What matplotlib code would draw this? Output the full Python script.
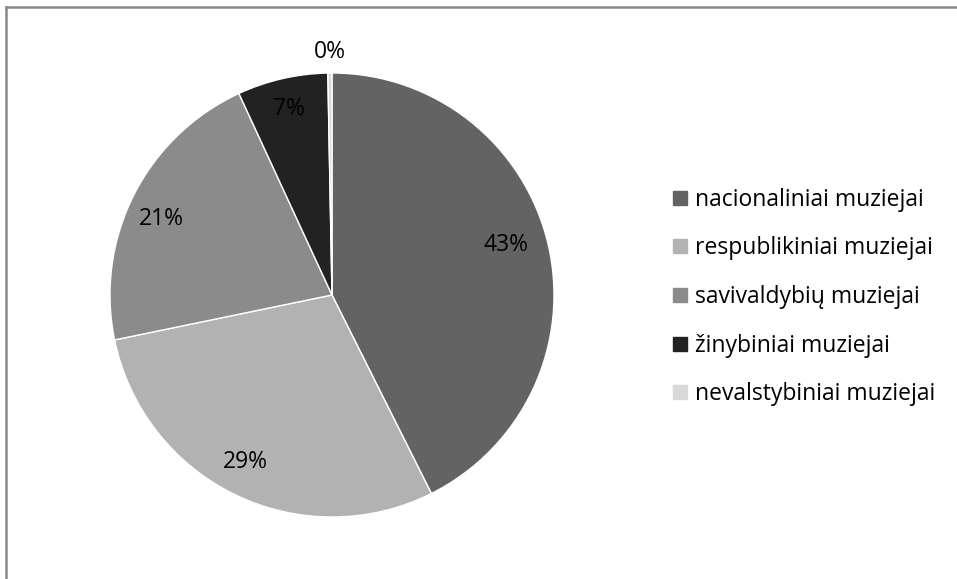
import numpy as np
import matplotlib
matplotlib.use("Agg")
import matplotlib.pyplot as plt
from matplotlib.lines import Line2D

# museum share by type (percent)
categories = ["nacionaliniai muziejai", "respublikiniai muziejai",
              "savivaldybių muziejai", "žinybiniai muziejai",
              "nevalstybiniai muziejai"]
shares = [42.7, 29.2, 21.4, 6.6, 0.3]
colours = ["#636363", "#b2b2b2", "#8b8b8b", "#222222", "#d9d9d9"]

plt.rcParams['font.family'] = ['Open Sans', 'DejaVu Sans']

W, H = 957, 579
fig = plt.figure(figsize=(W / 100, H / 100), dpi=100)

# pie centre and radius in pixels
cx, cy, r = 332, 295, 222
ax = fig.add_axes([(cx - r) / W, (H - cy - r) / H, 2 * r / W, 2 * r / H])

wedges, _ = ax.pie(shares, colors=colours, startangle=90, counterclock=False,
                   wedgeprops=dict(edgecolor="white", linewidth=1.0))
ax.set_xlim(-1, 1)
ax.set_ylim(-1, 1)
ax.set_aspect("equal")
ax.axis("off")

# percentage labels, roughly where Excel put them
total = sum(shares)
label_r = [0.815, 0.85, 0.84, 0.86, 1.095]
label_shift = [2.6, -1.6, 2.6, 0, 0]  # degrees
for w, val, lr, sh in zip(wedges, shares, label_r, label_shift):
    mid = np.deg2rad((w.theta1 + w.theta2) / 2 + sh)
    ax.text(lr * np.cos(mid), lr * np.sin(mid), "%.0f%%" % (val / total * 100),
            ha="center", va="center", fontsize=16.5, color="black")

# legend
handles = [Line2D([], [], marker="s", linestyle="none", markersize=10,
                  markerfacecolor=c, markeredgecolor=c) for c in colours]
fig.legend(handles, categories, loc="center left",
           bbox_to_anchor=(672 / W, (H - 297) / H), frameon=False,
           fontsize=16.5, labelspacing=1.07, handlelength=0.7,
           handletextpad=0.3, borderpad=0, borderaxespad=0)

# chart area border (only top and left visible)
fig.add_artist(Line2D([6 / W, 1], [1 - 6.5 / H, 1 - 6.5 / H],
                      transform=fig.transFigure, color="#898989", linewidth=1.8))
fig.add_artist(Line2D([6 / W, 6 / W], [0, 1 - 6.5 / H],
                      transform=fig.transFigure, color="#898989", linewidth=1.8))

fig.savefig("out.png", dpi=100)
